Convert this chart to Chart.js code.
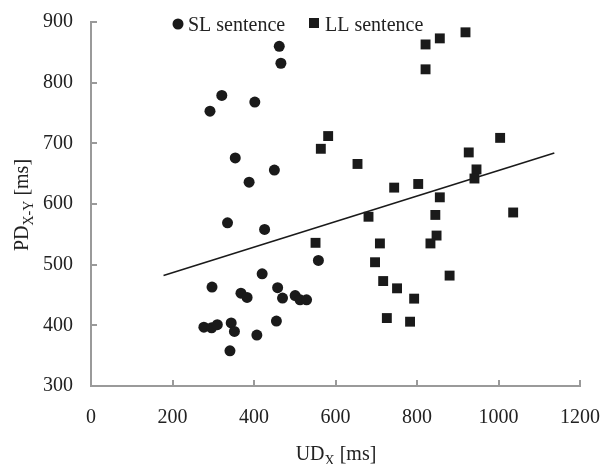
<!DOCTYPE html>
<html>
<head>
<meta charset="utf-8">
<script src="https://cdn.jsdelivr.net/npm/chart.js@4/dist/chart.umd.min.js"></script>
<style>
  html, body { margin: 0; padding: 0; background: #fff; }
  #wrap { width: 602px; height: 464px; }
</style>
</head>
<body>
<div id="wrap"><canvas id="chart"></canvas></div>
<script>
// SL sentence (circles)
const slX = [462, 466, 321, 292, 402, 354, 388, 450, 335, 426, 297, 420, 277, 296,
    310, 344, 352, 341, 407, 368, 383, 455, 458, 470, 501, 513, 529, 558];
const slY = [860, 832, 779, 753, 768, 676, 636, 656, 569, 558, 463, 485, 397, 396,
    401, 404, 390, 358, 384, 453, 446, 407, 462, 445, 449, 442, 442, 507];

// LL sentence (squares)
const llX = [821, 856, 919, 821, 582, 564, 654, 1004, 927, 946, 941, 744, 803, 856,
    681, 845, 1036, 848, 551, 709, 697, 833, 880, 717, 751, 793, 726, 783];
const llY = [863, 873, 883, 822, 712, 691, 666, 709, 685, 657, 642, 627, 633, 611,
    579, 582, 586, 548, 536, 535, 504, 535, 482, 473, 461, 444, 412, 406];

// linear trend line
const trendX = [178, 1137];
const trendY = [482, 684];

const xTicks = [0, 200, 400, 600, 800, 1000, 1200];
const yTicks = [300, 400, 500, 600, 700, 800, 900];

const seriesNames = ['SL sentence', 'LL sentence'];

const FONT = "'Liberation Serif', 'DejaVu Serif', serif";
const ink = '#1a1a1a';
const axisGray = '#9a9a9a';

const toPoints = (xs, ys) => xs.map((x, i) => ({ x: x, y: ys[i] }));

const drawSubText = (ctx, parts, x, y, align) => {
    // parts: [text, size, dy]
    let total = 0;
    parts.forEach((p) => {
        ctx.font = p[1] + 'px ' + FONT;
        total += ctx.measureText(p[0]).width;
    });
    let cx = align === 'center' ? x - total / 2 : x;
    parts.forEach((p) => {
        ctx.font = p[1] + 'px ' + FONT;
        ctx.fillText(p[0], cx, y + p[2]);
        cx += ctx.measureText(p[0]).width;
    });
};

const extras = {
    id: 'extras',
    afterDraw(chart) {
        const ctx = chart.ctx;
        const xs = chart.scales.x;
        const ys = chart.scales.y;
        const area = chart.chartArea;
        ctx.save();

        // inward tick marks
        ctx.strokeStyle = axisGray;
        ctx.lineWidth = 2;
        ctx.beginPath();
        xTicks.forEach((v) => {
            const px = Math.round(xs.getPixelForValue(v));
            ctx.moveTo(px, area.bottom);
            ctx.lineTo(px, area.bottom - 6);
        });
        yTicks.forEach((v) => {
            const py = Math.round(ys.getPixelForValue(v));
            ctx.moveTo(area.left, py);
            ctx.lineTo(area.left + 6, py);
        });
        ctx.stroke();

        // legend
        ctx.fillStyle = ink;
        ctx.textBaseline = 'alphabetic';
        ctx.textAlign = 'left';
        ctx.beginPath();
        ctx.arc(178, 24, 5.5, 0, Math.PI * 2);
        ctx.fill();
        ctx.fillStyle = '#222';
        ctx.font = '20px ' + FONT;
        ctx.fillText(seriesNames[0], 188, 31);
        ctx.fillStyle = ink;
        ctx.fillRect(309, 18, 10, 10);
        ctx.fillStyle = '#222';
        ctx.fillText(seriesNames[1], 325, 31);

        // axis titles with subscripts
        drawSubText(ctx, [['UD', 20, 0], ['X', 14, 5], [' [ms]', 20, 0]], 336, 460, 'center');

        ctx.translate(28, 205);
        ctx.rotate(-Math.PI / 2);
        drawSubText(ctx, [['PD', 20, 0], ['X-Y', 14, 5], [' [ms]', 20, 0]], 0, 0, 'center');
        ctx.restore();
    }
};

new Chart('chart', {
    type: 'scatter',
    data: {
        datasets: [
            {
                label: seriesNames[0],
                data: toPoints(slX, slY),
                pointStyle: 'circle',
                pointRadius: 5.5,
                pointHoverRadius: 5.5,
                backgroundColor: ink,
                borderColor: ink,
                borderWidth: 0,
            },
            {
                label: seriesNames[1],
                data: toPoints(llX, llY),
                pointStyle: 'rect',
                pointRadius: 7,
                pointHoverRadius: 7,
                backgroundColor: ink,
                borderColor: ink,
                borderWidth: 0,
            },
            {
                label: 'Linear',
                type: 'line',
                data: toPoints(trendX, trendY),
                showLine: true,
                pointRadius: 0,
                borderColor: ink,
                borderWidth: 1.6,
                fill: false,
            },
        ],
    },
    options: {
        responsive: true,
        maintainAspectRatio: false,
        animation: false,
        events: [],
        layout: {
            padding: { left: 0, right: 22, top: 22, bottom: 0 },
        },
        plugins: {
            legend: { display: false },
            tooltip: { enabled: false },
        },
        scales: {
            x: {
                type: 'linear',
                min: 0,
                max: 1200,
                afterBuildTicks: (scale) => {
                    scale.ticks = xTicks.map((v) => ({ value: v }));
                },
                afterFit: (scale) => {
                    scale.height = 78;
                    scale.paddingLeft = 0;
                    scale.paddingRight = 0;
                },
                grid: { display: false, drawTicks: false },
                border: { display: true, color: axisGray, width: 2 },
                ticks: {
                    padding: 20,
                    color: '#222',
                    font: { family: FONT, size: 20 },
                    maxRotation: 0,
                    callback: (v) => String(v),
                },
            },
            y: {
                type: 'linear',
                min: 300,
                max: 900,
                afterBuildTicks: (scale) => {
                    scale.ticks = yTicks.map((v) => ({ value: v }));
                },
                afterFit: (scale) => {
                    scale.width = 91;
                    scale.paddingTop = 0;
                    scale.paddingBottom = 0;
                },
                grid: { display: false, drawTicks: false },
                border: { display: true, color: axisGray, width: 2 },
                ticks: {
                    padding: 18,
                    color: '#222',
                    font: { family: FONT, size: 20 },
                    callback: (v) => String(v),
                },
            },
        },
    },
    plugins: [extras],
});
</script>
</body>
</html>
